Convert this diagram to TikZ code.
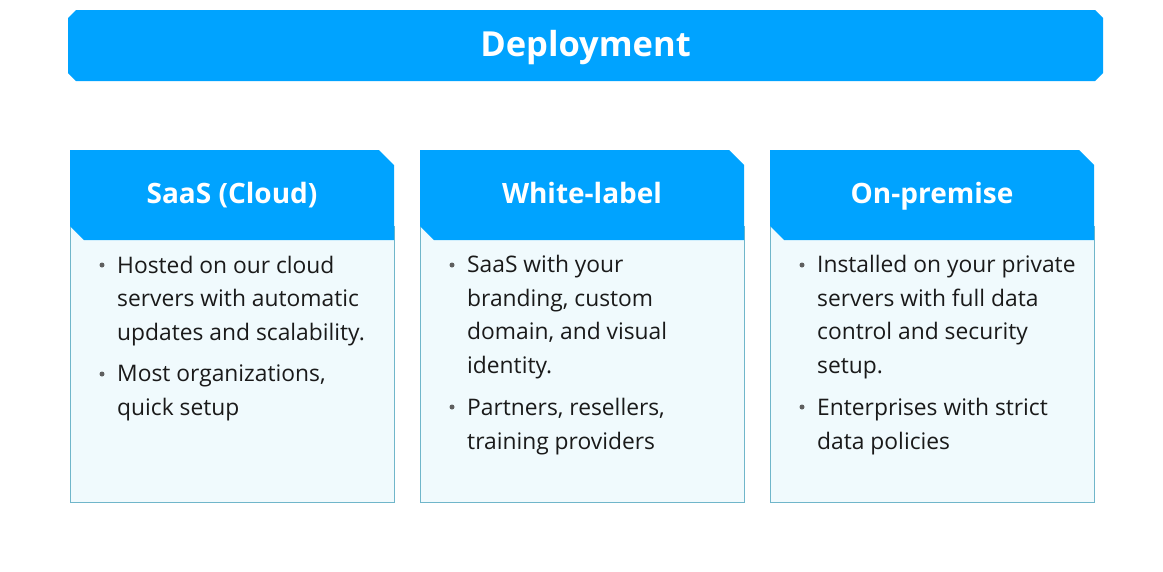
\documentclass[tikz,border=0pt]{standalone}
\usepackage{fontspec}
\setmainfont{Open Sans}
\usetikzlibrary{positioning}
\definecolor{deployblue}{RGB}{0,163,255}
\definecolor{cardfill}{RGB}{240,250,253}
\definecolor{cardline}{RGB}{112,182,202}
\definecolor{bodyink}{RGB}{26,26,26}
\definecolor{dotgray}{RGB}{95,95,95}
\tikzset{
  banner/.style={fill=deployblue},
  cardhead/.style={fill=deployblue},
  cardbody/.style={fill=cardfill, draw=cardline, line width=0.9pt},
  bigtitle/.style={text=white, font=\bfseries\fontsize{34.5}{40}\selectfont, inner sep=0pt, anchor=base},
  headtext/.style={text=white, font=\bfseries\fontsize{28}{34}\selectfont, inner sep=0pt, anchor=base},
  bodytxt/.style={text=bodyink, font=\fontsize{22.8}{33.5}\selectfont, align=left, inner sep=0pt, anchor=base west},
  bulletdot/.style={circle, fill=dotgray, inner sep=0pt, minimum size=5pt}
  }

\begin{document}
\begin{tikzpicture}[x=1pt, y=-1pt]
    \useasboundingbox (0,0) rectangle (1163,571);

    % top banner
    \fill[banner] (76,10) -- (1095,10) -- (1103,18) -- (1103,73) -- (1095,81)
      -- (76,81) -- (68,73) -- (68,18) -- cycle;
    \node[bigtitle] (deploy) at (585.5,56) {Deployment};

    % card bodies first, the headers lie over them
    \draw[cardbody] (70,226) rectangle (394,502);
    \draw[cardbody] (420,226) rectangle (744,502);
    \draw[cardbody] (770,226) rectangle (1094,502);

    \fill[cardhead] (70,150) -- (379,150) -- (394,165) -- (394,240) -- (84,240) -- (70,226) -- cycle;
    \fill[cardhead] (420,150) -- (729,150) -- (744,165) -- (744,240) -- (434,240) -- (420,226) -- cycle;
    \fill[cardhead] (770,150) -- (1079,150) -- (1094,165) -- (1094,240) -- (784,240) -- (770,226) -- cycle;

    \node[headtext] (saas) at (232,203) {SaaS (Cloud)};
    \node[headtext] (white) at (582,203) {White-label};
    \node[headtext] (prem) at (932,203) {On-premise};

    % SaaS bullets (base = last line)
    \node[bodytxt] (saasa) at (117,340) {Hosted on our cloud\\servers with automatic\\updates and scalability.};
    \node[bodytxt] (saasb) at (117,415) {Most organizations,\\quick setup};
    \node[bulletdot] (saasadot) at (102,265) {};
    \node[bulletdot] (saasbdot) at (102,374) {};

    % White-label bullets
    \node[bodytxt] (whitea) at (467,373) {SaaS with your\\branding, custom\\domain, and visual\\identity.};
    \node[bodytxt] (whiteb) at (467,449) {Partners, resellers,\\training providers};
    \node[bulletdot] (whiteadot) at (452,265) {};
    \node[bulletdot] (whitebdot) at (452,407) {};

    % On-premise bullets
    \node[bodytxt] (prema) at (817,373) {Installed on your private\\servers with full data\\control and security\\setup.};
    \node[bodytxt] (premb) at (817,449) {Enterprises with strict\\data policies};
    \node[bulletdot] (premadot) at (802,265) {};
    \node[bulletdot] (prembdot) at (802,407) {};
  \end{tikzpicture}
\end{document}
